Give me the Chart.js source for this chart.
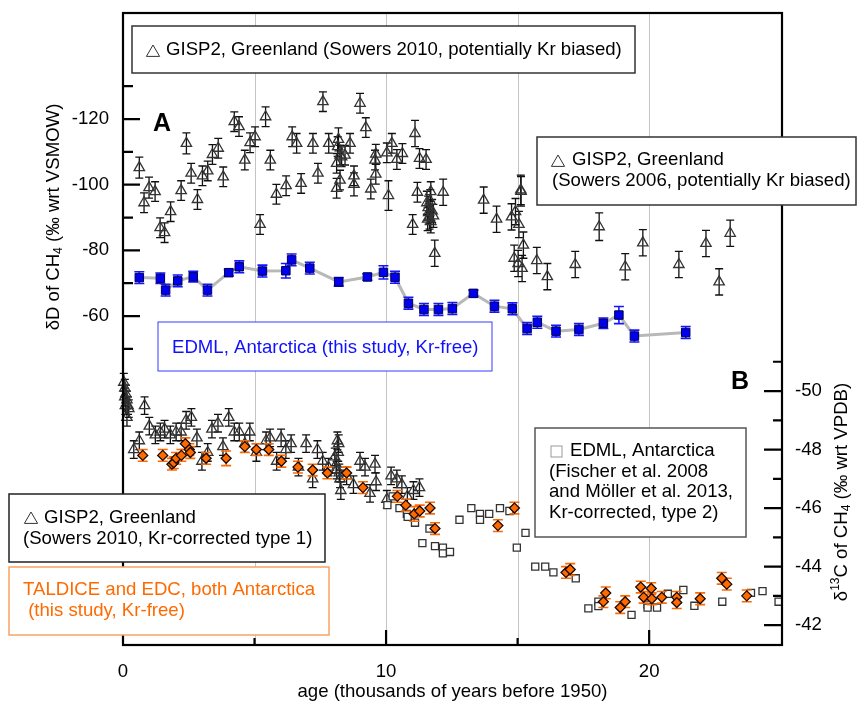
<!DOCTYPE html>
<html>
<head>
<meta charset="utf-8">
<script src="https://cdn.jsdelivr.net/npm/chart.js@4/dist/chart.umd.min.js"></script>
<style>
  body { margin: 0; background: #fff; }
  canvas { display: block; }
</style>
</head>
<body>
<canvas id="chart" width="857" height="702"></canvas>
<script>
// [age (kyr BP), value, error]
// panel A : dD of CH4
const gispDD = [
  [0.62,-105.2,3.2],[0.80,-94.5,3.0],[0.99,-99.1,3.2],[1.22,-97.9,3.0],[1.41,-86.9,3.0],[1.58,-85.4,3.0],
  [1.81,-91.8,3.0],[2.21,-98.2,3.0],[2.41,-112.6,3.2],[2.59,-103.5,3.0],[2.83,-95.5,3.0],[3.02,-102.7,3.0],
  [3.22,-104.2,3.0],[3.40,-109.2,3.0],[3.62,-111.1,3.0],[3.81,-102.4,3.0],[4.23,-119.2,3.0],[4.41,-117.7,3.0],
  [4.63,-107.5,3.0],[4.83,-112.8,3.0],[5.02,-114.6,3.0],[5.21,-87.9,3.0],[5.42,-120.7,3.0],[5.60,-107.5,3.0],
  [5.83,-97.1,3.0],[6.20,-99.7,3.0],[6.43,-114.6,3.0],[6.60,-112.6,3.0],[6.77,-100.4,3.0],[7.22,-112.6,3.0],
  [7.41,-103.5,3.0],[7.60,-125.3,3.0],[7.82,-112.6,3.0],
  [8.12,-106.5,3.0],[8.19,-113.8,3.5],[8.16,-111.6,3.0],[8.25,-109.0,3.0],[8.25,-101.4,3.0],[8.12,-98.9,3.0],
  [8.31,-108.5,3.0],[8.44,-109.0,3.0],
  [8.63,-112.6,3.0],[8.78,-102.7,3.0],[8.78,-100.1,3.5],[9.01,-124.8,3.0],[9.23,-117.4,3.0],[9.42,-98.7,3.0],
  [9.61,-109.3,3.0],[9.58,-107.5,3.0],[9.61,-103.2,3.0],[10.03,-109.7,3.0],[10.09,-96.7,4.5],[10.22,-112.6,3.0],
  [10.41,-107.7,3.0],[10.62,-109.5,3.0],[11.01,-87.9,3.0],[11.10,-115.6,4.0],[11.19,-97.7,3.0],[11.27,-108.0,3.0],
  [11.52,-107.7,3.0],[11.70,-97.9,3.0],
  [11.55,-94.5,3.5],[11.58,-89.5,3.5],[11.60,-93.0,3.5],[11.62,-91.5,3.5],[11.65,-90.0,3.5],[11.70,-88.8,3.5],
  [11.75,-92.0,3.5],[11.80,-90.5,3.5],[11.68,-95.0,3.5],[11.85,-79.1,4.0],[12.17,-97.7,4.0],
  [13.71,-95.3,4.0],[14.20,-89.5,4.0],[14.77,-90.2,4.0],[14.92,-91.8,4.0],[15.05,-87.9,4.0],[15.12,-98.4,4.5],
  [15.13,-98.0,4.5],[14.87,-77.6,4.0],[15.02,-76.0,4.0],[15.17,-74.5,4.0],[15.22,-81.6,4.0],[15.73,-76.9,4.0],
  [16.13,-72.0,4.0],[17.19,-75.7,4.0],[18.10,-87.2,4.2],[19.09,-75.0,4.0],[19.76,-82.3,4.0],[21.13,-75.7,4.0],
  [22.16,-82.1,4.0],[22.66,-70.4,4.0],[23.08,-85.2,4.0]
];

const edmlDD = [
  [0.62,-71.7,1.8],[1.42,-71.5,1.6],[1.62,-67.9,1.8],[2.08,-70.7,1.8],[2.67,-72.0,1.6],[3.21,-67.9,1.8],
  [4.02,-73.2,1.0],[4.42,-75.0,1.8],[5.30,-73.7,1.8],[6.19,-73.8,2.2],[6.41,-77.1,1.8],[7.10,-74.6,1.8],
  [8.20,-70.4,1.3],[9.29,-71.9,1.0],[9.90,-73.3,2.0],[10.34,-71.8,1.8],[10.85,-63.9,1.8],[11.44,-62.0,1.8],
  [11.99,-62.0,1.8],[12.52,-62.3,1.8],[13.32,-66.9,1.0],[14.12,-63.0,1.8],[14.80,-62.2,1.8],[15.36,-56.2,1.8],
  [15.75,-58.1,1.8],[16.46,-55.4,1.8],[17.33,-55.9,1.8],[18.26,-57.8,1.6],[18.85,-60.3,2.6],[19.44,-53.9,1.8],
  [21.39,-55.0,1.8]
];

// panel B : d13C of CH4
const gispC13 = [
  [0.03,-50.3,0.3],[0.07,-50.1,0.3],[0.11,-49.9,0.3],[0.15,-49.7,0.3],[0.19,-49.5,0.3],[0.09,-49.5,0.3],
  [0.22,-49.4,0.3],[0.15,-49.1,0.3],[0.07,-49.8,0.3],
  [0.41,-48.0,0.3],[0.62,-48.3,0.3],[0.82,-49.5,0.3],[1.00,-48.8,0.3],[1.23,-48.5,0.3],[1.42,-48.6,0.3],
  [1.58,-48.7,0.3],[1.80,-48.5,0.3],[2.02,-48.6,0.3],[2.21,-48.6,0.3],[2.40,-49.0,0.3],[2.60,-49.1,0.3],
  [2.81,-48.4,0.3],[3.00,-47.6,0.3],[3.22,-47.9,0.3],[3.38,-48.7,0.3],[3.61,-48.9,0.3],[3.80,-48.1,0.3],
  [4.02,-49.1,0.3],[4.23,-48.6,0.3],[4.42,-48.6,0.3],[4.63,-48.2,0.3],[4.82,-48.6,0.3],[5.07,-47.9,0.3],
  [5.44,-48.3,0.3],[5.59,-48.4,0.3],[5.84,-47.6,0.3],[6.01,-48.4,0.3],[6.19,-48.0,0.3],[6.39,-48.2,0.3],
  [6.67,-47.4,0.3],[6.96,-48.2,0.3],[7.21,-47.0,0.3],[7.39,-48.0,0.3],[7.59,-47.6,0.3],[7.81,-47.4,0.3],
  [8.05,-47.75,0.3],[8.10,-47.5,0.3],[8.15,-48.3,0.3],[8.20,-48.2,0.3],[8.22,-47.2,0.3],[8.25,-47.0,0.3],
  [8.28,-46.6,0.3],[8.18,-47.9,0.3],[8.12,-47.3,0.3],
  [8.50,-47.1,0.3],[8.76,-46.8,0.3],[9.01,-47.6,0.3],[9.20,-47.4,0.3],[9.39,-46.5,0.3],[9.58,-47.5,0.3],
  [9.62,-46.9,0.3],[10.03,-46.3,0.3],[10.19,-47.1,0.3],[10.41,-47.0,0.3],[10.60,-46.8,0.3],[10.81,-46.4,0.3],
  [11.04,-46.6,0.3],[11.27,-46.7,0.3]
];

const taldiceC13 = [
  [0.75,-47.8,0.2],[1.51,-47.8,0.2],[1.86,-47.5,0.2],[1.93,-47.55,0.2],[2.02,-47.7,0.2],[2.22,-47.8,0.2],
  [2.37,-48.2,0.2],[2.52,-48.0,0.2],[2.56,-47.9,0.2],[3.16,-47.7,0.2],[3.92,-47.7,0.25],[4.63,-48.1,0.2],
  [5.07,-48.0,0.2],[5.54,-48.0,0.2],[6.02,-47.6,0.2],[6.65,-47.4,0.2],[7.21,-47.3,0.2],[7.77,-47.2,0.2],
  [8.50,-47.2,0.2],[9.12,-46.7,0.2],[10.43,-46.4,0.2],[10.75,-46.1,0.2],[11.07,-45.8,0.25],[11.28,-45.9,0.2],
  [11.67,-46.0,0.2],[11.86,-45.3,0.2],[14.25,-45.4,0.2],[14.88,-46.0,0.2],[16.84,-43.8,0.2],[17.00,-43.9,0.2],
  [18.26,-42.8,0.2],[18.35,-43.1,0.2],[18.90,-42.6,0.2],[19.09,-42.8,0.2],[19.68,-43.3,0.2],[19.79,-42.95,0.2],
  [20.08,-43.25,0.2],[20.10,-42.9,0.2],[20.48,-42.95,0.2],[21.05,-42.95,0.2],[21.05,-42.77,0.2],[21.94,-42.9,0.2],
  [22.76,-43.6,0.2],[22.95,-43.4,0.2],[23.71,-43.0,0.2]
];

const edmlC13 = [
  [10.05,-46.1],[10.25,-46.4],[10.51,-46.0],[10.79,-45.8],[10.82,-45.7],[11.10,-45.5],[11.38,-44.8],
  [11.65,-45.3],[11.86,-44.7],[12.16,-44.65],[12.16,-44.45],[12.43,-44.5],[12.79,-45.6],[13.24,-46.0],
  [13.57,-45.8],[13.57,-45.6],[13.92,-45.8],[14.33,-46.0],[14.69,-45.9],[14.97,-44.65],[15.30,-45.15],
  [15.67,-44.0],[16.05,-44.0],[16.36,-43.8],[17.21,-43.6],[17.69,-42.57],[18.07,-42.8],[18.07,-42.65],
  [19.33,-42.35],[19.94,-42.7],[19.94,-42.6],[20.30,-42.6],[20.71,-43.07],[21.30,-43.2],[21.72,-42.66],
  [22.78,-42.8],[23.87,-43.1],[24.31,-43.16],[24.92,-42.8]
];

const xTicks = [0, 10, 20];
const ddTicks = [-120, -100, -80, -60];
const c13Ticks = [-50, -48, -46, -44, -42];

const FONT = '"Liberation Sans", Arial, sans-serif';
const FS = 18.6;

function pts(arr) { return arr.map(p => ({ x: p[0], y: p[1] })); }
function errs(arr) { return arr.map(p => p[2]); }

// error bars drawn just before each dataset's markers
const errorBars = {
  id: 'errorBars',
  beforeDatasetDraw(chart, args) {
    const ds = chart.data.datasets[args.index];
    if (!ds.errors) return;
    const yScale = chart.scales[ds.yAxisID];
    const ctx = chart.ctx;
    const w = ds.capWidth;
    ctx.save();
    ctx.strokeStyle = ds.errorColor;
    ctx.lineWidth = ds.errorWidth;
    ds.data.forEach((p, i) => {
      const x = args.meta.data[i].x;
      const y1 = yScale.getPixelForValue(p.y - ds.errors[i]);
      const y2 = yScale.getPixelForValue(p.y + ds.errors[i]);
      ctx.beginPath();
      ctx.moveTo(x, y1); ctx.lineTo(x, y2);
      ctx.moveTo(x - w, y1); ctx.lineTo(x + w, y1);
      ctx.moveTo(x - w, y2); ctx.lineTo(x + w, y2);
      ctx.stroke();
    });
    ctx.restore();
  }
};

const gridLines = {
  id: 'gridLines',
  beforeDatasetsDraw(chart) {
    const { ctx, chartArea: a, scales: { x } } = chart;
    ctx.save();
    ctx.strokeStyle = '#c4c4c4';
    ctx.lineWidth = 1;
    [5, 10, 15, 20].forEach(v => {
      const px = Math.round(x.getPixelForValue(v)) + 0.5;
      ctx.beginPath(); ctx.moveTo(px, a.top); ctx.lineTo(px, a.bottom); ctx.stroke();
    });
    ctx.restore();
  }
};

function box(ctx, x0, y0, x1, y1, color, lw) {
  ctx.fillStyle = '#fff';
  ctx.fillRect(x0, y0, x1 - x0, y1 - y0);
  ctx.strokeStyle = color;
  ctx.lineWidth = lw;
  ctx.strokeRect(x0, y0, x1 - x0, y1 - y0);
}

function tri(ctx, cx, cy, s, color) {
  ctx.strokeStyle = color;
  ctx.lineWidth = 1;
  ctx.beginPath();
  ctx.moveTo(cx, cy - s * 0.5);
  ctx.lineTo(cx + s * 0.55, cy + s * 0.45);
  ctx.lineTo(cx - s * 0.55, cy + s * 0.45);
  ctx.closePath();
  ctx.stroke();
}

function richText(ctx, parts, x, y) {
  let w = 0;
  parts.forEach(p => { ctx.font = p[1] + 'px ' + FONT; w += ctx.measureText(p[0]).width; });
  let cx = x - w / 2;
  parts.forEach(p => {
    ctx.font = p[1] + 'px ' + FONT;
    ctx.fillText(p[0], cx, y + (p[2] || 0));
    cx += ctx.measureText(p[0]).width;
  });
}

const decorations = {
  id: 'decorations',
  afterDraw(chart) {
    const { ctx, chartArea: a, scales: { x, yL, yR } } = chart;
    ctx.save();

    // frame
    ctx.strokeStyle = '#000';
    ctx.lineWidth = 2.2;
    ctx.strokeRect(a.left, a.top, a.right - a.left, a.bottom - a.top);

    // ticks (inward)
    ctx.lineWidth = 2.2;
    ctx.beginPath();
    for (let v = -130; v <= -50; v += 10) {
      const py = yL.getPixelForValue(v);
      const len = ddTicks.includes(v) ? 17 : 10;
      ctx.moveTo(a.left, py); ctx.lineTo(a.left + len, py);
    }
    for (let v = -51; v <= -42; v += 1) {
      const py = yR.getPixelForValue(v);
      const len = c13Ticks.includes(v) ? 18 : 9;
      ctx.moveTo(a.right, py); ctx.lineTo(a.right - len, py);
    }
    [5, 10, 15, 20].forEach(v => {
      const px = x.getPixelForValue(v);
      const len = xTicks.includes(v) ? 15 : 7;
      ctx.moveTo(px, a.bottom); ctx.lineTo(px, a.bottom - len);
    });
    ctx.stroke();

    // tick labels
    ctx.fillStyle = '#000';
    ctx.font = FS + 'px ' + FONT;
    ctx.textBaseline = 'middle';
    ctx.textAlign = 'right';
    ddTicks.forEach(v => ctx.fillText(String(v), a.left - 14, yL.getPixelForValue(v)));
    ctx.textAlign = 'left';
    c13Ticks.forEach(v => ctx.fillText(String(v), a.right + 13, yR.getPixelForValue(v)));
    ctx.textAlign = 'center';
    xTicks.forEach(v => ctx.fillText(String(v), x.getPixelForValue(v), 672));
    ctx.fillText('age (thousands of years before 1950)', (a.left + a.right) / 2, 692);

    // axis titles
    ctx.textAlign = 'left';
    ctx.save();
    ctx.translate(54, 217);
    ctx.rotate(-Math.PI / 2);
    richText(ctx, [['δD of CH', FS], ['4', 12, 5], [' (‰ wrt VSMOW)', FS]], 0, 0);
    ctx.restore();
    ctx.save();
    ctx.translate(842, 492);
    ctx.rotate(-Math.PI / 2);
    richText(ctx, [['δ', FS], ['13', 12, -6], ['C of CH', FS], ['4', 12, 5], [' (‰ wrt VPDB)', FS]], 0, 0);
    ctx.restore();

    // panel letters
    ctx.font = 'bold 25px ' + FONT;
    ctx.fillText('A', 153, 124);
    ctx.fillText('B', 731, 382);

    // legend boxes
    ctx.font = FS + 'px ' + FONT;
    box(ctx, 132, 26, 635, 73, '#333', 1.5);
    tri(ctx, 153, 51, 12, '#333');
    ctx.fillStyle = '#000';
    ctx.fillText('GISP2, Greenland (Sowers 2010, potentially Kr biased)', 166, 50);

    box(ctx, 537, 137, 856, 205, '#333', 1.5);
    tri(ctx, 558, 161, 12, '#333');
    ctx.fillStyle = '#000';
    ctx.fillText('GISP2, Greenland', 572, 160);
    ctx.fillText('(Sowers 2006, potentially Kr biased)', 552, 181);

    box(ctx, 158, 322, 492, 371, '#3a3aff', 1);
    ctx.fillStyle = '#1010ff';
    ctx.fillText('EDML, Antarctica (this study, Kr-free)', 172, 348);

    box(ctx, 535, 428, 746, 537, '#555', 1.5);
    ctx.strokeStyle = '#999';
    ctx.lineWidth = 1;
    ctx.strokeRect(551, 446, 11, 11);
    ctx.fillStyle = '#000';
    ctx.fillText('EDML, Antarctica', 570, 451);
    ctx.fillText('(Fischer et al. 2008', 549, 472);
    ctx.fillText('and Möller et al. 2013,', 549, 492);
    ctx.fillText('Kr-corrected, type 2)', 549, 513);

    box(ctx, 9, 494, 325, 562, '#222', 1.5);
    tri(ctx, 31, 518, 12, '#333');
    ctx.fillStyle = '#000';
    ctx.fillText('GISP2, Greenland', 44, 518);
    ctx.fillText('(Sowers 2010, Kr-corrected type 1)', 23, 539);

    box(ctx, 9, 567, 329, 635, '#f7a466', 1.5);
    ctx.fillStyle = '#ff6a00';
    ctx.fillText('TALDICE and EDC, both Antarctica', 23, 590);
    ctx.fillText(' (this study, Kr-free)', 23, 611);

    ctx.restore();
  }
};

new Chart(document.getElementById('chart'), {
  type: 'scatter',
  data: {
    datasets: [
      {
        label: 'EDML line',
        data: pts(edmlDD),
        yAxisID: 'yL',
        showLine: true,
        borderColor: '#b8b8b8',
        borderWidth: 3,
        pointRadius: 0,
        order: 10,
        clip: false
      },
      {
        label: 'GISP2 dD',
        data: pts(gispDD),
        errors: errs(gispDD),
        errorColor: '#111', errorWidth: 1.3, capWidth: 4,
        yAxisID: 'yL',
        pointStyle: 'triangle',
        pointRadius: 6,
        borderColor: '#333',
        borderWidth: 1.3,
        backgroundColor: 'rgba(0,0,0,0)',
        order: 5,
        clip: false
      },
      {
        label: 'EDML dD',
        data: pts(edmlDD),
        errors: errs(edmlDD),
        errorColor: '#1515ff', errorWidth: 1.6, capWidth: 5,
        yAxisID: 'yL',
        pointStyle: 'rect',
        pointRadius: 6,
        backgroundColor: '#0000ee',
        borderColor: '#000050',
        borderWidth: 1,
        order: 1,
        clip: false
      },
      {
        label: 'GISP2 d13C',
        data: pts(gispC13),
        errors: errs(gispC13),
        errorColor: '#111', errorWidth: 1.3, capWidth: 4,
        yAxisID: 'yR',
        pointStyle: 'triangle',
        pointRadius: 6,
        borderColor: '#333',
        borderWidth: 1.3,
        backgroundColor: 'rgba(0,0,0,0)',
        order: 6,
        clip: false
      },
      {
        label: 'EDML d13C',
        data: pts(edmlC13),
        yAxisID: 'yR',
        pointStyle: 'rect',
        pointRadius: 5,
        backgroundColor: '#fff',
        borderColor: '#333',
        borderWidth: 1.3,
        order: 4,
        clip: false
      },
      {
        label: 'TALDICE/EDC d13C',
        data: pts(taldiceC13),
        errors: errs(taldiceC13),
        errorColor: '#ff6a00', errorWidth: 1.6, capWidth: 5,
        yAxisID: 'yR',
        pointStyle: 'rectRot',
        pointRadius: 5,
        backgroundColor: '#ff6a00',
        borderColor: '#1a0a00',
        borderWidth: 1.3,
        order: 2,
        clip: false
      }
    ]
  },
  options: {
    responsive: false,
    animation: false,
    devicePixelRatio: 1,
    layout: { padding: { left: 123, right: 75, top: 13, bottom: 57 } },
    plugins: { legend: { display: false }, tooltip: { enabled: false } },
    scales: {
      x: { type: 'linear', min: 0, max: 25.05, display: false },
      yL: { type: 'linear', position: 'left', min: -152.3, max: 40.2, reverse: true, display: false },
      yR: { type: 'linear', position: 'right', min: -62.92, max: -41.32, reverse: true, display: false }
    }
  },
  plugins: [gridLines, errorBars, decorations]
});
</script>
</body>
</html>
